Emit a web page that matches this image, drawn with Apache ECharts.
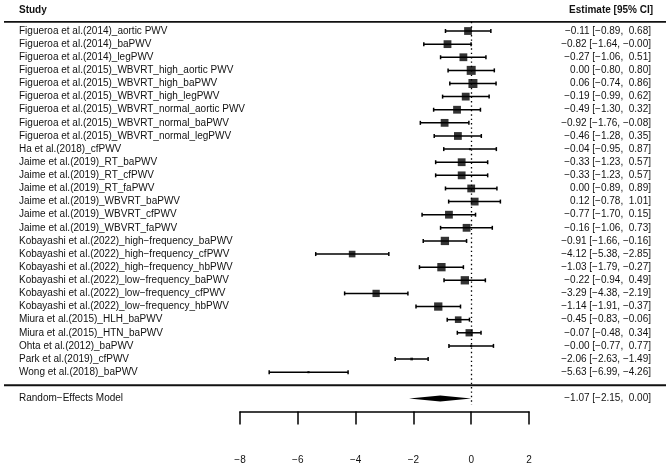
<!DOCTYPE html>
<html>
<head>
<meta charset="utf-8">
<script src="https://cdn.jsdelivr.net/npm/echarts@6/dist/echarts.min.js"></script>
<style>
  html, body { margin: 0; padding: 0; background: #fff; }
  #main { width: 669px; height: 467px; }
</style>
</head>
<body>
<div id="main"></div>
<script>
// 研究名称
const studies = [
  'Figueroa et al.(2014)_aortic PWV',
  'Figueroa et al.(2014)_baPWV',
  'Figueroa et al.(2014)_legPWV',
  'Figueroa et al.(2015)_WBVRT_high_aortic PWV',
  'Figueroa et al.(2015)_WBVRT_high_baPWV',
  'Figueroa et al.(2015)_WBVRT_high_legPWV',
  'Figueroa et al.(2015)_WBVRT_normal_aortic PWV',
  'Figueroa et al.(2015)_WBVRT_normal_baPWV',
  'Figueroa et al.(2015)_WBVRT_normal_legPWV',
  'Ha et al.(2018)_cfPWV',
  'Jaime et al.(2019)_RT_baPWV',
  'Jaime et al.(2019)_RT_cfPWV',
  'Jaime et al.(2019)_RT_faPWV',
  'Jaime et al.(2019)_WBVRT_baPWV',
  'Jaime et al.(2019)_WBVRT_cfPWV',
  'Jaime et al.(2019)_WBVRT_faPWV',
  'Kobayashi et al.(2022)_high\u2212frequency_baPWV',
  'Kobayashi et al.(2022)_high\u2212frequency_cfPWV',
  'Kobayashi et al.(2022)_high\u2212frequency_hbPWV',
  'Kobayashi et al.(2022)_low\u2212frequency_baPWV',
  'Kobayashi et al.(2022)_low\u2212frequency_cfPWV',
  'Kobayashi et al.(2022)_low\u2212frequency_hbPWV',
  'Miura et al.(2015)_HLH_baPWV',
  'Miura et al.(2015)_HTN_baPWV',
  'Ohta et al.(2012)_baPWV',
  'Park et al.(2019)_cfPWV',
  'Wong et al.(2018)_baPWV'
];
const estimates = [-0.11, -0.82, -0.27, 0.00, 0.06, -0.19, -0.49, -0.92, -0.46, -0.04,
  -0.33, -0.33, 0.00, 0.12, -0.77, -0.16, -0.91, -4.12, -1.03, -0.22,
  -3.29, -1.14, -0.45, -0.07, -0.003, -2.06, -5.63];
const lowerCI = [-0.89, -1.64, -1.06, -0.80, -0.74, -0.99, -1.30, -1.76, -1.28, -0.95,
  -1.23, -1.23, -0.89, -0.78, -1.70, -1.06, -1.66, -5.38, -1.79, -0.94,
  -4.38, -1.91, -0.83, -0.48, -0.77, -2.63, -6.99];
const upperCI = [0.68, -0.004, 0.51, 0.80, 0.86, 0.62, 0.32, -0.08, 0.35, 0.87,
  0.57, 0.57, 0.89, 1.01, 0.15, 0.73, -0.16, -2.85, -0.27, 0.49,
  -2.19, -0.37, -0.06, 0.34, 0.77, -1.49, -4.26];
// 权重(%)，决定方块大小
const weights = [4.0, 4.0, 4.0, 4.7, 4.7, 4.0, 4.0, 4.0, 4.0, 0.7,
  4.0, 4.0, 4.0, 4.0, 4.0, 4.0, 4.3, 3.3, 4.3, 4.3,
  3.7, 4.3, 3.3, 3.7, 0.7, 1.0, 0.7];
const pooledLabel = 'Random\u2212Effects Model';
const pooledEst = -1.07;
const pooledLower = -2.15;
const pooledUpper = 0.00;
const xTicks = [-8, -6, -4, -2, 0, 2];

const FONT = '"Liberation Sans", Arial, sans-serif';
const pooledRow = studies.length + 2;

function fmt(v) {
  return v.toFixed(2).replace('-', '\u2212');
}
function ciText(est, lo, hi) {
  return fmt(est) + ' [' + fmt(lo) + ', ' + (hi < 0 ? '' : ' ') + fmt(hi) + ']';
}

const leftLabels = {};
const rightLabels = {};
studies.forEach((s, i) => {
  leftLabels[i + 1] = s;
  rightLabels[i + 1] = ciText(estimates[i], lowerCI[i], upperCI[i]);
});
leftLabels[pooledRow] = pooledLabel;
rightLabels[pooledRow] = ciText(pooledEst, pooledLower, pooledUpper);

const barData = studies.map((s, i) => [lowerCI[i], upperCI[i], i + 1]);
const pointData = studies.map((s, i) => [estimates[i], i + 1, weights[i]]);

const chart = echarts.init(document.getElementById('main'));

const yAxisBase = {
  type: 'value',
  inverse: true,
  min: 0,
  max: 30,
  interval: 1,
  axisLine: { show: false },
  axisTick: { show: false },
  splitLine: { show: false }
};

const option = {
  animation: false,
  backgroundColor: '#fff',
  grid: { left: 240, right: 140, top: 17.9, bottom: 55.5 },
  xAxis: {
    type: 'value',
    position: 'bottom',
    min: -8,
    max: 2,
    interval: 2,
    axisLine: { onZero: false, lineStyle: { color: '#000', width: 1.5 } },
    axisTick: { length: 13, lineStyle: { color: '#000', width: 1.5 } },
    splitLine: { show: false },
    axisLabel: {
      margin: 44,
      color: '#111',
      fontFamily: FONT,
      fontSize: 10,
      customValues: xTicks,
      formatter: v => String(v).replace('-', '\u2212')
    }
  },
  yAxis: [
    Object.assign({}, yAxisBase, {
      position: 'left',
      axisLabel: {
        align: 'left',
        margin: 221,
        color: '#111',
        fontFamily: FONT,
        fontSize: 10,
        formatter: v => leftLabels[v] || ''
      }
    }),
    Object.assign({}, yAxisBase, {
      position: 'right',
      axisLabel: {
        align: 'right',
        margin: 122,
        color: '#111',
        fontFamily: FONT,
        fontSize: 10,
        formatter: v => rightLabels[v] || ''
      }
    })
  ],
  series: [
    {
      type: 'custom',
      name: 'ci',
      silent: true,
      data: barData,
      renderItem(params, api) {
        const row = api.value(2);
        const p1 = api.coord([api.value(0), row]);
        const p2 = api.coord([api.value(1), row]);
        const cap = 2;
        const style = { stroke: '#000', lineWidth: 1.5 };
        return {
          type: 'group',
          children: [
            { type: 'line', shape: { x1: p1[0], y1: p1[1], x2: p2[0], y2: p2[1] }, style },
            { type: 'line', shape: { x1: p1[0], y1: p1[1] - cap, x2: p1[0], y2: p1[1] + cap }, style },
            { type: 'line', shape: { x1: p2[0], y1: p2[1] - cap, x2: p2[0], y2: p2[1] + cap }, style }
          ]
        };
      }
    },
    {
      type: 'scatter',
      name: 'estimate',
      silent: true,
      symbol: 'rect',
      symbolSize: d => 1 + d[2] * 1.7,
      itemStyle: { color: '#000' },
      data: pointData,
      z: 3,
      markLine: {
        silent: true,
        symbol: ['none', 'none'],
        label: { show: false },
        lineStyle: { color: '#000', width: 1.3, type: [1.4, 3] },
        data: [[{ coord: [0, 0.3] }, { coord: [0, 29.5] }]]
      }
    },
    {
      type: 'custom',
      name: 'pooled',
      silent: true,
      data: [[pooledLower, pooledEst, pooledUpper, pooledRow]],
      renderItem(params, api) {
        const row = api.value(3);
        const a = api.coord([api.value(0), row]);
        const b = api.coord([api.value(1), row]);
        const c = api.coord([api.value(2), row]);
        const h = 3;
        return {
          type: 'polygon',
          shape: { points: [[a[0], a[1]], [b[0], b[1] - h], [c[0], c[1]], [b[0], b[1] + h]] },
          style: { fill: '#000' }
        };
      }
    }
  ]
};

chart.setOption(option);

// 表头与分隔线
const yTop = chart.convertToPixel({ yAxisIndex: 0 }, 0.3);
const ySep = chart.convertToPixel({ yAxisIndex: 0 }, 28);
chart.setOption({
  graphic: [
    { type: 'line', shape: { x1: 4, y1: yTop, x2: 666, y2: yTop }, style: { stroke: '#111', lineWidth: 1.8 } },
    { type: 'line', shape: { x1: 4, y1: ySep, x2: 666, y2: ySep }, style: { stroke: '#111', lineWidth: 1.8 } },
    { type: 'text', left: 19, top: 5, style: { text: 'Study', font: 'bold 10px ' + FONT, fill: '#111' } },
    { type: 'text', right: 16, top: 5, style: { text: 'Estimate [95% CI]', font: 'bold 10px ' + FONT, fill: '#111', textAlign: 'right' } }
  ]
});
</script>
</body>
</html>
